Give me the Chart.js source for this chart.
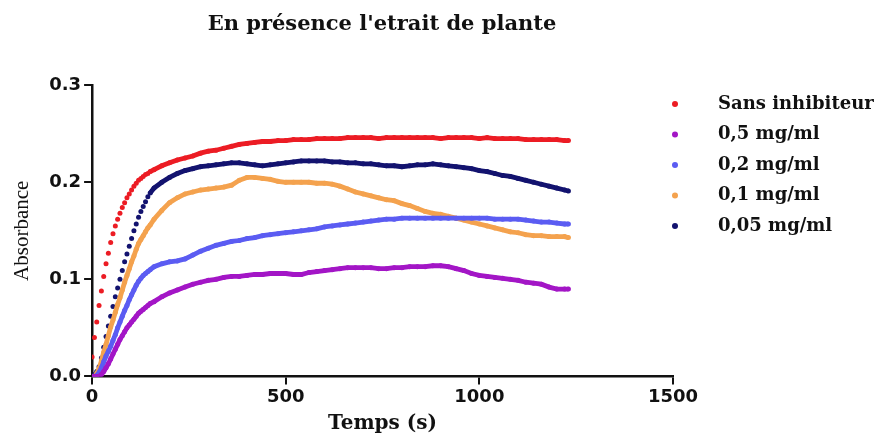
<!DOCTYPE html>
<html>
<head>
<meta charset="utf-8">
<script src="https://cdn.jsdelivr.net/npm/chart.js@4.4.1/dist/chart.umd.min.js"></script>
<style>
  html, body { margin: 0; padding: 0; background: #fff; }
  #wrap { width: 881px; height: 437px; }
</style>
</head>
<body>
<div id="wrap"><canvas id="myChart"></canvas></div>
<script>
// temps de mesure (s)
var temps = [
  0, 6, 12, 18, 24, 30, 36, 42, 48, 54,
  60, 66, 72, 78, 84, 90, 96, 102, 108, 114,
  120, 126, 132, 138, 144, 150,
  160, 180, 200, 220, 240, 260, 280, 300, 320, 340,
  360, 380, 400, 420, 440, 460, 480, 500, 520, 540,
  560, 580, 600, 620, 640, 660, 680, 700, 720, 740,
  760, 780, 800, 820, 840, 860, 880, 900, 920, 940,
  960, 980, 1000, 1020, 1040, 1060, 1080, 1100, 1120, 1140,
  1160, 1180, 1200, 1220, 1230
];

var sansInhibiteur = [
  0.020, 0.040, 0.056, 0.073, 0.088, 0.103, 0.116, 0.127, 0.138, 0.147,
  0.155, 0.162, 0.168, 0.174, 0.179, 0.184, 0.188, 0.192, 0.196, 0.199,
  0.202, 0.204, 0.206, 0.208, 0.209, 0.211,
  0.213, 0.217, 0.220, 0.223, 0.225, 0.227, 0.230, 0.232, 0.233, 0.235,
  0.237, 0.239, 0.240, 0.241, 0.242, 0.242, 0.243, 0.243, 0.244, 0.244,
  0.244, 0.245, 0.245, 0.245, 0.245, 0.246, 0.246, 0.246, 0.246, 0.245,
  0.246, 0.246, 0.246, 0.246, 0.246, 0.246, 0.246, 0.245, 0.246, 0.246,
  0.246, 0.246, 0.245, 0.246, 0.245, 0.245, 0.245, 0.245, 0.244, 0.244,
  0.244, 0.244, 0.244, 0.243, 0.243
];

var c05 = [
  0.000, 0.000, 0.000, 0.000, 0.002, 0.005, 0.009, 0.013, 0.018, 0.023,
  0.028, 0.033, 0.038, 0.042, 0.046, 0.050, 0.053, 0.056, 0.059, 0.062,
  0.065, 0.067, 0.069, 0.071, 0.073, 0.075,
  0.077, 0.082, 0.086, 0.089, 0.092, 0.095, 0.097, 0.099, 0.100, 0.102,
  0.103, 0.103, 0.104, 0.105, 0.105, 0.106, 0.106, 0.106, 0.105, 0.105,
  0.107, 0.108, 0.109, 0.110, 0.111, 0.112, 0.112, 0.112, 0.112, 0.111,
  0.111, 0.112, 0.112, 0.113, 0.113, 0.113, 0.114, 0.114, 0.113, 0.111,
  0.109, 0.106, 0.104, 0.103, 0.102, 0.101, 0.100, 0.099, 0.097, 0.096,
  0.095, 0.092, 0.090, 0.090, 0.090
];

var c02 = [
  0.000, 0.000, 0.001, 0.004, 0.009, 0.015, 0.021, 0.026, 0.031, 0.037,
  0.043, 0.050, 0.056, 0.062, 0.068, 0.073, 0.079, 0.084, 0.089, 0.094,
  0.098, 0.101, 0.104, 0.106, 0.108, 0.110,
  0.113, 0.116, 0.118, 0.119, 0.121, 0.125, 0.129, 0.132, 0.135, 0.137,
  0.139, 0.140, 0.142, 0.143, 0.145, 0.146, 0.147, 0.148, 0.149, 0.150,
  0.151, 0.152, 0.154, 0.155, 0.156, 0.157, 0.158, 0.159, 0.160, 0.161,
  0.162, 0.162, 0.163, 0.163, 0.163, 0.163, 0.163, 0.163, 0.163, 0.163,
  0.163, 0.163, 0.163, 0.163, 0.162, 0.162, 0.162, 0.162, 0.161, 0.160,
  0.159, 0.159, 0.158, 0.157, 0.157
];

var c01 = [
  0.000, 0.000, 0.003, 0.008, 0.016, 0.025, 0.033, 0.042, 0.051, 0.058,
  0.066, 0.074, 0.081, 0.089, 0.097, 0.104, 0.111, 0.118, 0.124, 0.131,
  0.137, 0.141, 0.145, 0.149, 0.153, 0.156,
  0.162, 0.171, 0.179, 0.184, 0.188, 0.190, 0.192, 0.193, 0.194, 0.195,
  0.197, 0.202, 0.205, 0.205, 0.204, 0.203, 0.201, 0.200, 0.200, 0.200,
  0.200, 0.199, 0.199, 0.198, 0.196, 0.193, 0.190, 0.188, 0.186, 0.184,
  0.182, 0.181, 0.178, 0.176, 0.173, 0.170, 0.168, 0.167, 0.165, 0.163,
  0.161, 0.159, 0.157, 0.155, 0.153, 0.151, 0.149, 0.148, 0.146, 0.145,
  0.145, 0.144, 0.144, 0.144, 0.143
];

var c005 = [
  0.000, 0.002, 0.005, 0.010, 0.019, 0.030, 0.041, 0.052, 0.062, 0.072,
  0.082, 0.091, 0.100, 0.109, 0.118, 0.126, 0.134, 0.142, 0.150, 0.157,
  0.164, 0.170, 0.175, 0.180, 0.185, 0.189,
  0.194, 0.200, 0.205, 0.209, 0.212, 0.214, 0.216, 0.217, 0.218, 0.219,
  0.220, 0.220, 0.219, 0.218, 0.217, 0.218, 0.219, 0.220, 0.221, 0.222,
  0.222, 0.222, 0.222, 0.221, 0.221, 0.220, 0.220, 0.219, 0.219, 0.218,
  0.217, 0.217, 0.216, 0.217, 0.218, 0.218, 0.219, 0.218, 0.217, 0.216,
  0.215, 0.214, 0.212, 0.211, 0.209, 0.207, 0.206, 0.204, 0.202, 0.200,
  0.198, 0.196, 0.194, 0.192, 0.191
];

var seriesNames = ['Sans inhibiteur', '0,5 mg/ml', '0,2 mg/ml', '0,1 mg/ml', '0,05 mg/ml'];
var seriesValues = [sansInhibiteur, c05, c02, c01, c005];
var seriesColors = ['#ec1c24', '#a316c6', '#5b5cf2', '#f4a24e', '#13136f'];
// fast-rising series: their first points stay as loose dots
var dottedStart = [true, false, false, false, true];

var xTicks = [0, 500, 1000, 1500];
var yTicks = [0, 0.1, 0.2, 0.3];

// legend drawn by hand so the dots sit apart from the labels like in the figure
var sideLegend = {
  id: 'sideLegend',
  afterDraw: function(chart) {
    var ctx = chart.ctx;
    ctx.save();
    ctx.font = 'bold 18px "DejaVu Serif"';
    ctx.textBaseline = 'middle';
    chart.data.datasets.forEach(function(ds, i) {
      var y = 104 + i * 30.5;
      ctx.fillStyle = ds.pointBackgroundColor;
      ctx.beginPath();
      ctx.arc(675, y, 3, 0, 2 * Math.PI);
      ctx.fill();
      ctx.fillStyle = '#111';
      ctx.fillText(ds.label, 718, y);
    });
    ctx.restore();
  }
};

var datasets = seriesNames.map(function(name, i) {
  var col = seriesColors[i];
  return {
    label: name,
    data: temps.map(function(t, j) { return { x: t, y: seriesValues[i][j] }; }),
    borderColor: col,
    backgroundColor: col,
    pointBackgroundColor: col,
    pointBorderWidth: 0,
    pointRadius: 2.5,
    borderWidth: 4.8,
    fill: false,
    tension: 0,
    segment: {
      borderColor: function(c) {
        return dottedStart[i] && c.p0.parsed.x < 150 ? 'rgba(0,0,0,0)' : col;
      }
    }
  };
});

var axisFont = { family: 'DejaVu Sans', weight: 'bold', size: 18 };

var ctx = document.getElementById('myChart');
var myChart = new Chart(ctx, {
  type: 'line',
  data: { datasets: datasets },
  options: {
    responsive: true,
    maintainAspectRatio: false,
    animation: false,
    events: [],
    layout: { padding: { left: 0, right: 117, top: 0, bottom: 0 } },
    plugins: {
      legend: { display: false },
      tooltip: { enabled: false },
      title: {
        display: true,
        text: "En présence l'etrait de plante",
        color: '#111',
        font: { family: 'DejaVu Serif', weight: 'bold', size: 21 },
        padding: { top: 12, bottom: 48 }
      }
    },
    scales: {
      x: {
        type: 'linear',
        min: 0,
        max: 1500,
        afterBuildTicks: function(axis) { axis.ticks = xTicks.map(function(v) { return { value: v }; }); },
        ticks: {
          font: axisFont,
          color: '#111',
          padding: 2,
          maxRotation: 0,
          callback: function(v) { return String(v); }
        },
        grid: { drawOnChartArea: false, drawTicks: true, tickLength: 8, color: '#111', lineWidth: 2 },
        border: { color: '#111', width: 2.5 },
        title: {
          display: true,
          text: 'Temps (s)',
          color: '#111',
          font: { family: 'DejaVu Serif', weight: 'bold', size: 20 },
          padding: { top: 2, bottom: 1 }
        }
      },
      y: {
        min: 0,
        max: 0.3,
        afterBuildTicks: function(axis) { axis.ticks = yTicks.map(function(v) { return { value: v }; }); },
        ticks: {
          font: axisFont,
          color: '#111',
          padding: 3,
          callback: function(v) { return Number(v).toFixed(1); }
        },
        grid: { drawOnChartArea: false, drawTicks: true, tickLength: 8, color: '#111', lineWidth: 2 },
        border: { color: '#111', width: 2.5 },
        title: {
          display: true,
          text: 'Absorbance',
          color: '#111',
          font: { family: 'Liberation Serif', size: 21 },
          padding: { top: 10, bottom: 11 }
        }
      },
      // empty strip on the right, leaves room for the legend
      yLegend: {
        position: 'right',
        display: true,
        ticks: { display: false },
        grid: { display: false },
        border: { display: false },
        afterFit: function(axis) { axis.width = 91; }
      }
    }
  },
  plugins: [sideLegend]
});
</script>
</body>
</html>
